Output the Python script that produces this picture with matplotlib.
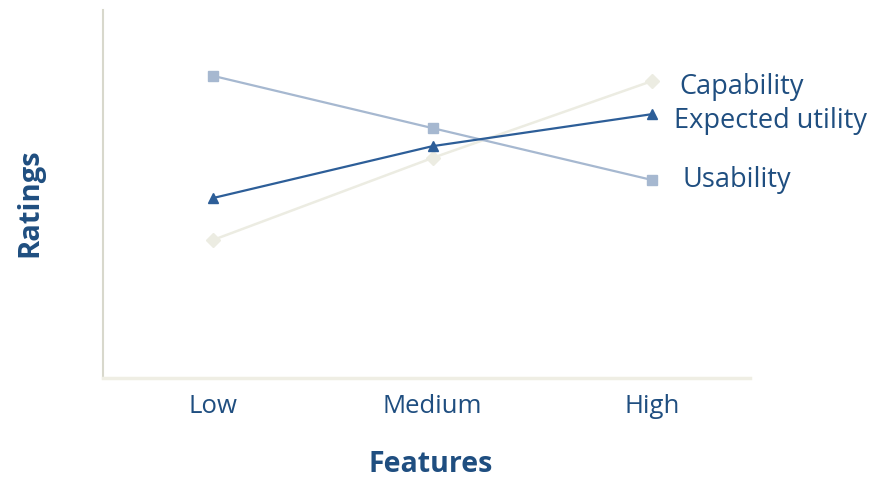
import numpy as np
import matplotlib.pyplot as plt

plt.rcParams['font.family'] = ['Open Sans', 'DejaVu Sans']

# categories and ratings (arbitrary 0-10 scale)
features = ["Low", "Medium", "High"]
usability = [8.21, 6.79, 5.38]
expected_utility = [4.89, 6.30, 7.17]
capability = [3.75, 5.98, 8.07]

text_color = "#1f4e80"

fig = plt.figure(figsize=(8.7, 4.8), dpi=100)
ax = fig.add_axes([0.1184, 0.2125, 0.7437, 0.7667])

x = np.arange(len(features))

ax.plot(x, usability, color="#a6b8d0", lw=1.6, marker="s", ms=7.5,
        label="Usability", zorder=3)
ax.plot(x, capability, color="#ecece2", lw=1.8, marker="D", ms=7,
        label="Capability", zorder=2)
ax.plot(x, expected_utility, color="#2d5e98", lw=1.6, marker="^", ms=7.5,
        label="Expected utility", zorder=4)

# labels at the line ends
ax.annotate("Capability", (x[-1], capability[-1]), xytext=(19.5, -9.4),
            textcoords="offset points", va="baseline", ha="left",
            fontsize=19.5, color=text_color)
ax.annotate("Expected utility", (x[-1], expected_utility[-1]), xytext=(16, -10),
            textcoords="offset points", va="baseline", ha="left",
            fontsize=19.5, color=text_color)
ax.annotate("Usability", (x[-1], usability[-1]), xytext=(22, -5),
            textcoords="offset points", va="baseline", ha="left",
            fontsize=19.5, color=text_color)

ax.set_xlim(-0.501, 2.446)
ax.set_ylim(0, 10)
ax.set_xticks(x)
ax.set_xticklabels(features, fontsize=18.5, color=text_color, va="baseline")
ax.set_yticks([])
ax.tick_params(axis="x", length=0, pad=25)

fig.text(431 / 870, 8 / 480, "Features", fontsize=20.5, fontweight="bold",
         color=text_color, ha="center", va="baseline")
fig.text(37 / 870, 277.5 / 480, "Ratings", fontsize=21, fontweight="bold",
         color=text_color, ha="center", va="baseline", rotation=90,
         rotation_mode="anchor")

for side in ["top", "right"]:
    ax.spines[side].set_visible(False)
ax.spines["left"].set_color("#d8d8cc")
ax.spines["bottom"].set_color("#efeee4")
ax.spines["left"].set_linewidth(1.5)
ax.spines["bottom"].set_linewidth(2.5)

fig.savefig("out.png", dpi=100)
